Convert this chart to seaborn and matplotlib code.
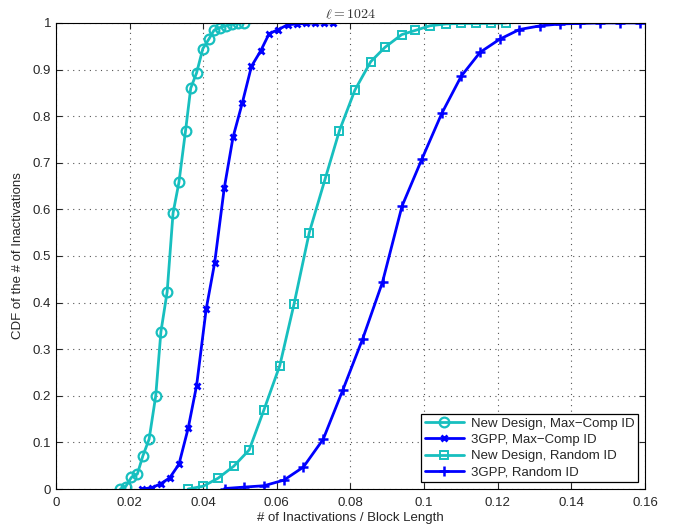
import numpy as np
import pandas as pd
import matplotlib
matplotlib.use("Agg")
import matplotlib.pyplot as plt
import seaborn as sns

# Dados (CDF do número de inativações)
nd_mc_x = [0.0175, 0.0189, 0.0205, 0.0221, 0.0236, 0.0253, 0.0271, 0.0285, 0.0302,
           0.0318, 0.0334, 0.0352, 0.0366, 0.0382, 0.0399, 0.0415, 0.0429, 0.0445,
           0.0461, 0.0478, 0.0494, 0.0510]
nd_mc_y = [0.0, 0.005, 0.025, 0.032, 0.071, 0.107, 0.200, 0.337, 0.423,
           0.592, 0.658, 0.769, 0.860, 0.893, 0.945, 0.965, 0.984, 0.990,
           0.994, 0.997, 0.999, 1.0]

g_mc_x = [0.0235, 0.0261, 0.0284, 0.0309, 0.0334, 0.0359, 0.0382, 0.0408, 0.0431,
          0.0457, 0.0481, 0.0506, 0.0531, 0.0556, 0.0579, 0.0604, 0.0629, 0.0654,
          0.0679, 0.0703, 0.0728, 0.0753]
g_mc_y = [0.0, 0.003, 0.011, 0.024, 0.053, 0.130, 0.222, 0.386, 0.485,
          0.645, 0.755, 0.828, 0.907, 0.940, 0.977, 0.986, 0.996, 0.998,
          0.999, 1.0, 1.0, 1.0]

nd_r_x = [0.0359, 0.0400, 0.0440, 0.0483, 0.0525, 0.0565, 0.0608, 0.0647, 0.0688,
          0.0731, 0.0770, 0.0812, 0.0855, 0.0894, 0.0939, 0.0976, 0.1016, 0.1059,
          0.1100, 0.1141, 0.1181, 0.1223]
nd_r_y = [0.0, 0.006, 0.023, 0.049, 0.084, 0.170, 0.265, 0.398, 0.550,
          0.665, 0.769, 0.856, 0.917, 0.948, 0.975, 0.984, 0.994, 0.998,
          0.999, 0.999, 0.999, 1.0]

g_r_x = [0.0458, 0.0510, 0.0565, 0.0619, 0.0672, 0.0726, 0.0779, 0.0833, 0.0887,
         0.0940, 0.0994, 0.1048, 0.1101, 0.1152, 0.1205, 0.1259, 0.1316, 0.1370,
         0.1424, 0.1477, 0.1531, 0.1586]
g_r_y = [0.001, 0.004, 0.007, 0.019, 0.047, 0.107, 0.212, 0.322, 0.444,
         0.607, 0.708, 0.806, 0.886, 0.937, 0.965, 0.986, 0.994, 0.998,
         0.999, 1.0, 1.0, 1.0]

series_names = ["New Design, Max\u2212Comp ID", "3GPP, Max\u2212Comp ID",
                "New Design, Random ID", "3GPP, Random ID"]

x_ticks = [0, 0.02, 0.04, 0.06, 0.08, 0.1, 0.12, 0.14, 0.16]
x_labels = ["0", "0.02", "0.04", "0.06", "0.08", "0.1", "0.12", "0.14", "0.16"]
y_ticks = [0, 0.1, 0.2, 0.3, 0.4, 0.5, 0.6, 0.7, 0.8, 0.9, 1.0]
y_labels = ["0", "0.1", "0.2", "0.3", "0.4", "0.5", "0.6", "0.7", "0.8", "0.9", "1"]

frames = []
for name, xs, ys in zip(series_names,
                        [nd_mc_x, g_mc_x, nd_r_x, g_r_x],
                        [nd_mc_y, g_mc_y, nd_r_y, g_r_y]):
    frames.append(pd.DataFrame({"x": xs, "y": ys, "serie": name}))
df = pd.concat(frames, ignore_index=True)

sns.set_style("ticks")
plt.rcParams['font.family'] = ['Liberation Sans', 'DejaVu Sans']
plt.rcParams['mathtext.fontset'] = 'cm'

cyan = "#17BFBF"
blue = "#0000FF"
estilos = {
    series_names[0]: dict(color=cyan, marker="o", ms=7, mfc="none", mew=1.6),
    series_names[1]: dict(color=blue, marker="x", ms=4.5, mew=2.0),
    series_names[2]: dict(color=cyan, marker="s", ms=6, mfc="none", mew=1.4),
    series_names[3]: dict(color=blue, marker="+", ms=7, mew=1.8),
}

fig = plt.figure(figsize=(6.86, 5.27), dpi=100)
ax = fig.add_axes([0.0816, 0.0721, 0.8586, 0.8843])

for name in series_names:
    sub = df[df["serie"] == name]
    st = estilos[name]
    sns.lineplot(data=sub, x="x", y="y", ax=ax, sort=False, estimator=None,
                 color=st["color"], linewidth=2, label=name,
                 marker=st["marker"], markersize=st["ms"],
                 markerfacecolor=st.get("mfc", st["color"]),
                 markeredgecolor=st["color"], markeredgewidth=st["mew"])

ax.set_xlim(0, 0.16)
ax.set_ylim(0, 1)
ax.set_xticks(x_ticks)
ax.set_xticklabels(x_labels)
ax.set_yticks(y_ticks)
ax.set_yticklabels(y_labels)
ax.tick_params(direction="in", length=4, labelsize=9.5, top=True, right=True)
ax.tick_params(axis="x", pad=6)
ax.grid(True, linestyle=(0, (1, 4)), color="#555555", linewidth=0.8)
for s in ax.spines.values():
    s.set_linewidth(0.8)
    s.set_color("black")

ax.set_xlabel("# of Inactivations / Block Length", fontsize=9.5, labelpad=2)
ax.set_ylabel("CDF of the # of Inactivations", fontsize=9.5, labelpad=6)
ax.set_title(r"$\ell = 1024$", fontsize=10, pad=3, color="#333333")

leg = ax.legend(loc="lower right", fontsize=9.5, fancybox=False, framealpha=1,
                edgecolor="black", borderaxespad=0.5, handlelength=3.0,
                labelspacing=0.3, borderpad=0.3, handletextpad=0.5)
leg.get_frame().set_linewidth(0.9)

fig.savefig("out.png", dpi=100)
